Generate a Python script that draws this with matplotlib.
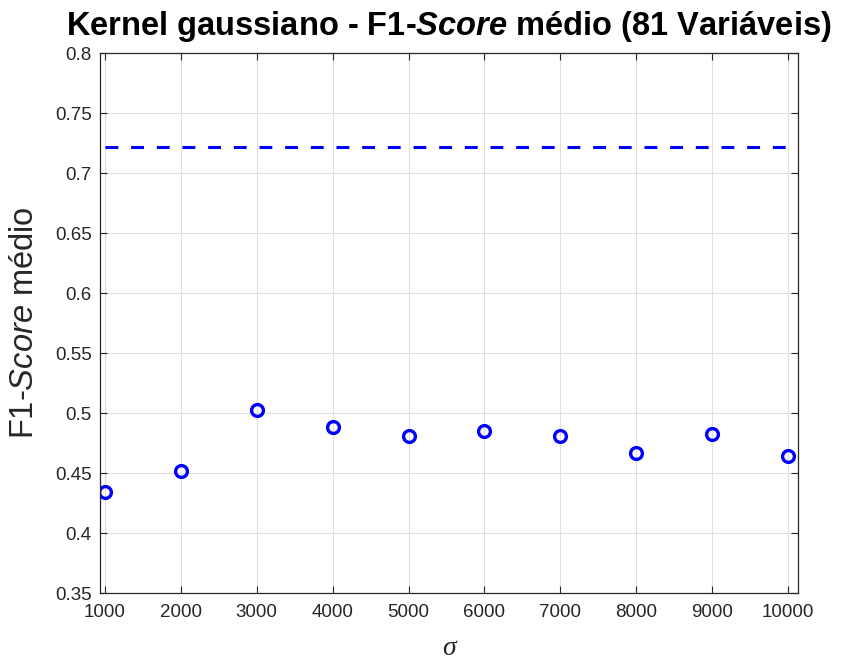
import matplotlib
matplotlib.use("Agg")
import matplotlib.pyplot as plt
import numpy as np

plt.rcParams['font.family'] = ['Liberation Sans', 'DejaVu Sans']
plt.rcParams['mathtext.fontset'] = 'custom'
plt.rcParams['mathtext.rm'] = 'Liberation Sans'
plt.rcParams['mathtext.it'] = 'Liberation Sans:italic'
plt.rcParams['mathtext.bf'] = 'Liberation Sans:bold'
plt.rcParams['mathtext.bfit'] = 'Liberation Sans:italic:bold'

sigma = [1000, 2000, 3000, 4000, 5000, 6000, 7000, 8000, 9000, 10000]
f1_gauss = [0.434, 0.452, 0.5025, 0.488, 0.481, 0.485, 0.481, 0.4665, 0.4825, 0.464]
f1_ref = 0.7215
xticks = [1000, 2000, 3000, 4000, 5000, 6000, 7000, 8000, 9000, 10000]
yticks = [0.35, 0.4, 0.45, 0.5, 0.55, 0.6, 0.65, 0.7, 0.75, 0.8]

fig = plt.figure(figsize=(8.47, 6.66), dpi=100)
ax = fig.add_axes([0.1181, 0.1096, 0.9421 - 0.1181, 0.92 - 0.1096])

ax.plot([sigma[0], sigma[-1]], [f1_ref, f1_ref], color=(0, 0, 1), lw=2.2,
        dashes=(4.2, 4.2), dash_capstyle='butt')
ax.plot(sigma, f1_gauss, 'o', color=(0, 0, 1), markerfacecolor='none',
        markersize=8.5, markeredgewidth=2.4, linestyle='none')

ax.set_xlim(935, 10130)
ax.set_ylim(0.35, 0.8)
ax.set_xticks(xticks)
ax.set_xticklabels([str(v) for v in xticks])
ax.set_yticks(yticks)
ax.set_yticklabels([f"{v:g}" for v in yticks])
ax.grid(True, color='#dfdfdf', lw=0.8)
ax.set_axisbelow(True)
ax.tick_params(direction='in', top=True, right=True, length=5, width=0.8,
               colors='#262626', labelsize=13.5)
ax.tick_params(axis='x', pad=8)
ax.tick_params(axis='y', pad=6)
for s in ax.spines.values():
    s.set_color('#262626')
    s.set_linewidth(0.9)

ax.set_title('Kernel gaussiano - F1-$\\mathbfit{Score}$ médio (81 Variáveis)',
             fontsize=23.5, fontweight='bold', pad=13)
ax.set_ylabel('F1-$\\mathit{Score}$ médio', fontsize=23.5, color='#262626', labelpad=11)
ax.set_xlabel('σ', family=['Liberation Serif'], style='italic', fontsize=20,
              color='#262626', labelpad=11)

fig.savefig('out.png', dpi=100)
